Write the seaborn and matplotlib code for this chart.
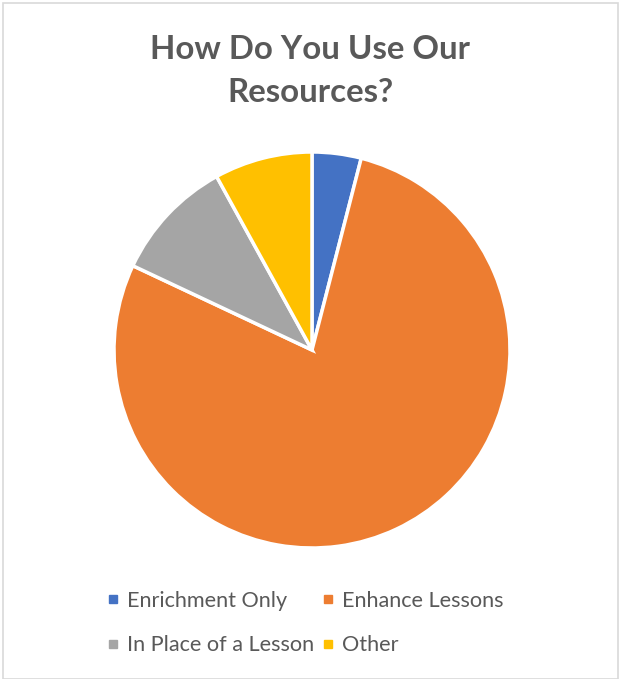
import matplotlib
matplotlib.use('Agg')
import matplotlib.pyplot as plt
from matplotlib.lines import Line2D
from matplotlib.patches import Rectangle
import seaborn as sns

sns.set_theme(style='white')
plt.rcParams['font.family'] = ['Lato', 'DejaVu Sans']

categories = ['Enrichment Only', 'Enhance Lessons', 'In Place of a Lesson', 'Other']
shares = [4, 78, 10, 8]
colors = ['#4472C4', '#ED7D31', '#A5A5A5', '#FFC000']
title = 'How Do You Use Our\nResources?'
text_col = '#595959'

W, H = 621, 679
fig = plt.figure(figsize=(W / 100, H / 100), dpi=100)
fig.patch.set_facecolor('white')

# thin gray frame like the exported chart area
fig.add_artist(Rectangle((3 / W, 0), 1 - 6 / W, 1 - 3 / H, transform=fig.transFigure,
                         fill=False, edgecolor='#D9D9D9', linewidth=1.2))

cx, cy, r = 312, 350, 198
ax = fig.add_axes([(cx - r) / W, (H - cy - r) / H, 2 * r / W, 2 * r / H])
ax.pie(shares, colors=colors, startangle=90, counterclock=False,
       wedgeprops=dict(edgecolor='white', linewidth=2.5))
ax.set_xlim(-1, 1)
ax.set_ylim(-1, 1)
ax.set_aspect('equal')
ax.axis('off')

fig.text(0.5, 1 - 71 / H, title, ha='center', va='center', fontsize=23.8,
         fontweight='bold', color=text_col, linespacing=1.55)

handles = [Line2D([], [], marker='s', linestyle='none', markersize=6,
                  markerfacecolor=c, markeredgecolor=c) for c in colors]
# legend fills column by column, reorder so rows read like the original
order = [0, 2, 1, 3]
fig.legend([handles[i] for i in order], [categories[i] for i in order],
           loc='center', bbox_to_anchor=(305 / W, 1 - 623 / H),
           ncol=2, frameon=False, fontsize=15.6, labelcolor=text_col,
           handlelength=0.6, handletextpad=0.35, columnspacing=0.35,
           labelspacing=1.15)

fig.savefig('out.png', dpi=100)
